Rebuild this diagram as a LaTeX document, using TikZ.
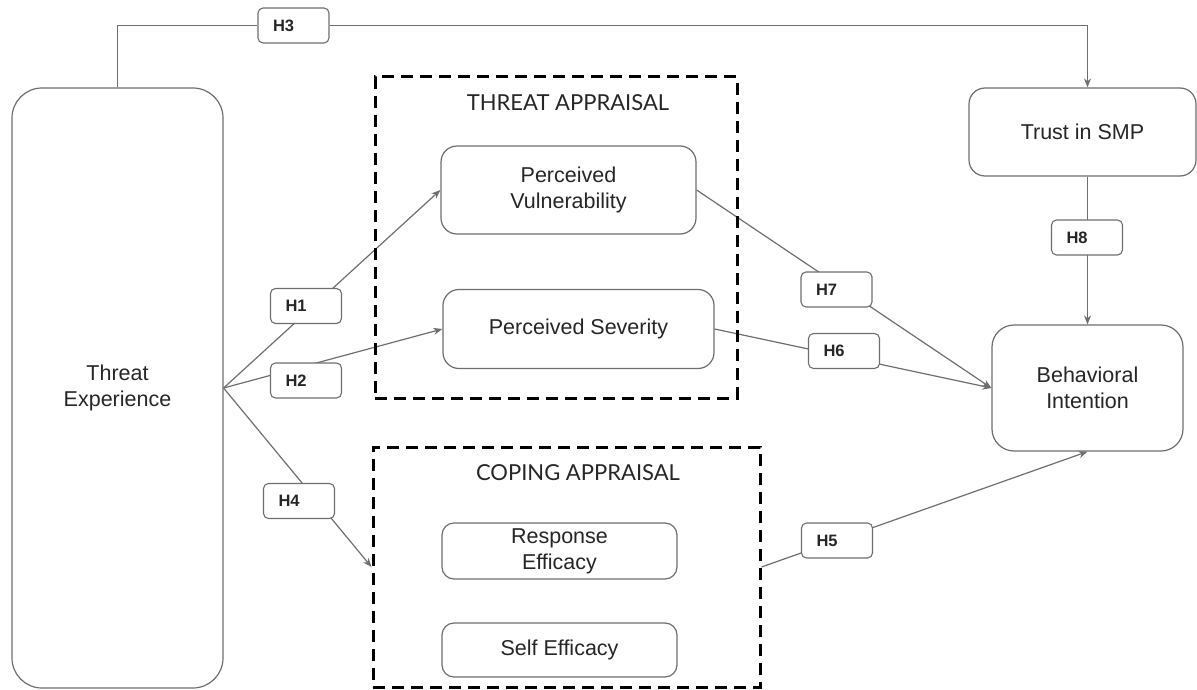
\documentclass[tikz,border=0pt]{standalone}
\usepackage{fontspec}
\setmainfont{Liberation Sans}
\newfontfamily\latofont{Lato}
\usetikzlibrary{arrows.meta}
\definecolor{linegray}{HTML}{6E6E6E}
\definecolor{txtgray}{HTML}{262626}
\pgfdeclarelayer{bg}
\pgfsetlayers{bg,main}
\begin{document}
\begin{tikzpicture}[x=1pt,y=-1pt,
 box/.style={draw=linegray, line width=1.2pt, fill=white, rounded corners=16pt, align=center, inner sep=0pt, text=txtgray, font=\fontsize{21.5}{26}\selectfont},
 hlabel/.style={draw=linegray, line width=1.1pt, fill=white, rounded corners=5pt, minimum height=35pt, text width=41pt, inner xsep=15pt, inner ysep=0pt, align=left, font=\fontsize{16.5}{20}\selectfont\bfseries, text=txtgray},
 group/.style={draw=black, line width=3pt, dash pattern=on 12pt off 7pt, inner sep=0pt},
 conn/.style={draw=linegray, line width=1.2pt},
 arr/.style={conn, -{Stealth[length=9pt,width=7pt]}},
 heading/.style={font=\latofont\fontsize{22}{26}\selectfont, text=txtgray}]

\useasboundingbox (0,0) rectangle (1197,690);

% groups
\node[group, minimum width=362pt, minimum height=321pt] (ta) at (556,237.5) {};
\node[group, minimum width=387pt, minimum height=240pt] (ca) at (566.5,567) {};
\node[heading] (tat) at (568,103) {THREAT APPRAISAL};
\node[heading] (cat) at (578,473) {COPING APPRAISAL};

% constructs
\node[box, rounded corners=30pt, minimum width=211pt, minimum height=600pt] (te) at (117.5,388) {Threat\\Experience};
\node[box, minimum width=227pt, minimum height=88pt] (trust) at (1082.5,132) {Trust in SMP};
\node[box, rounded corners=22pt, minimum width=191pt, minimum height=126pt] (bi) at (1087.5,388) {Behavioral\\Intention};
\node[box, minimum width=255pt, minimum height=88pt] (pv) at (568.5,190) {Perceived\\Vulnerability};
\node[box, minimum width=271pt, minimum height=79pt] (ps) at (578.5,329) {Perceived Severity};
\node[box, rounded corners=12pt, minimum width=235pt, minimum height=56pt] (re) at (559.5,551) {Response\\Efficacy};
\node[box, rounded corners=12pt, minimum width=235pt, minimum height=54pt] (se) at (559.5,650) {Self Efficacy};

% hypothesis labels
\node[hlabel] (h3) at (293.5,25.5) {H3};
\node[hlabel] (h8) at (1087,237.5) {H8};
\node[hlabel] (h1) at (306,306) {H1};
\node[hlabel] (h2) at (306,380.5) {H2};
\node[hlabel] (h4) at (299,501) {H4};
\node[hlabel] (h5) at (837,540.5) {H5};
\node[hlabel] (h6) at (844,351) {H6};
\node[hlabel] (h7) at (836.5,289.5) {H7};

% connectors
\begin{pgfonlayer}{bg}
\draw[conn] (te.north) |- (h3.west);
\draw[arr] (h3.east) -| (bi.north |- trust.north);
\draw[arr] (bi.north |- trust.south) -- (bi.north);
\draw[arr] (te.east) -- (pv.west);
\draw[arr] (te.east) -- (ps.west);
\draw[arr] (te.east) -- (ca.west);
\draw[arr] (ca.east) -- (bi.south);
\draw[arr] (ps.east) -- (bi.west);
\draw[arr] (pv.east) -- (bi.west);
\end{pgfonlayer}
\end{tikzpicture}
\end{document}
